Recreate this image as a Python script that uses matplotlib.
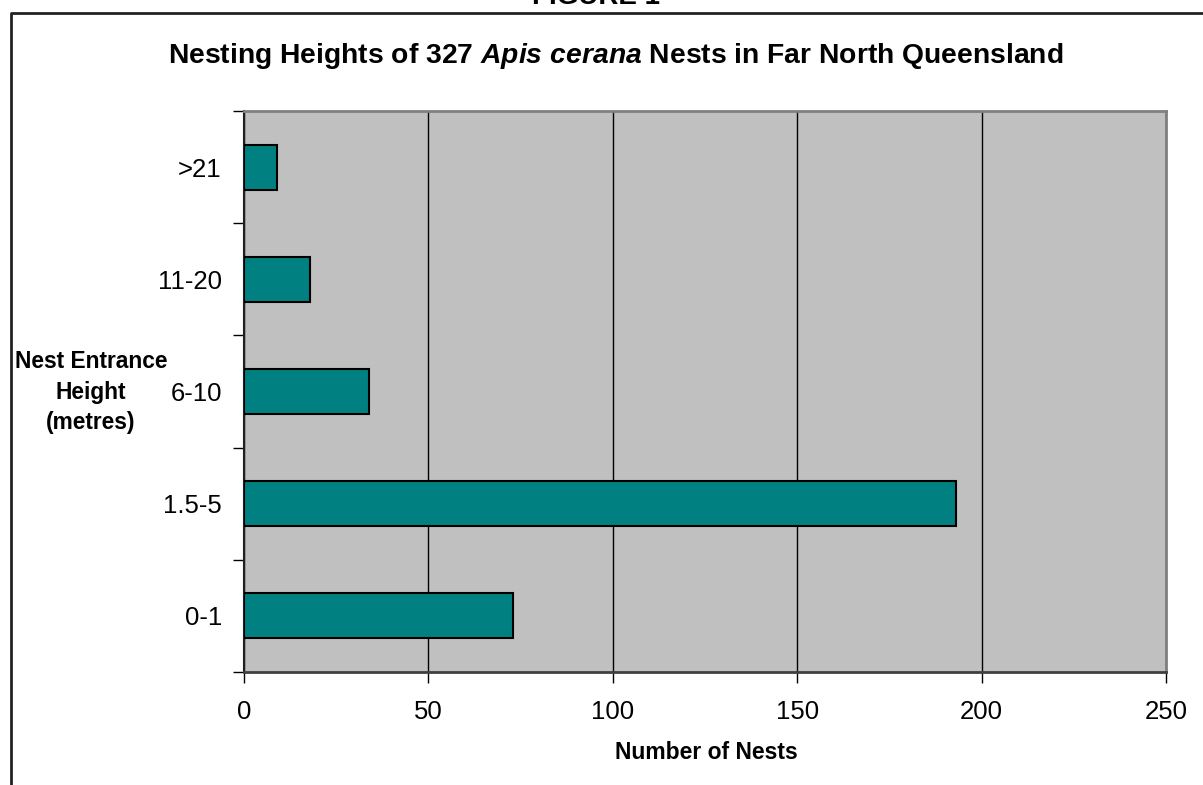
import matplotlib
matplotlib.use("Agg")
import matplotlib.pyplot as plt
from matplotlib.lines import Line2D
import numpy as np

categories = ["0-1", "1.5-5", "6-10", "11-20", ">21"]
nests = [73, 193, 34, 18, 9]
x_ticks = [0, 50, 100, 150, 200, 250]

plt.rcParams['font.family'] = ['Liberation Sans', 'DejaVu Sans']
plt.rcParams['mathtext.fontset'] = 'custom'
plt.rcParams['mathtext.it'] = 'Liberation Sans:italic:bold'
plt.rcParams['mathtext.rm'] = 'Liberation Sans:bold'

W, H = 1203, 785
fig = plt.figure(figsize=(W / 100, H / 100), dpi=100)
fig.patch.set_facecolor('white')

L, R, T, B = 244, 1166, 111, 672
ax = fig.add_axes([L / W, 1 - B / H, (R - L) / W, (B - T) / H])
ax.set_facecolor('#C0C0C0')

pos = np.arange(len(categories))
ax.barh(pos, nests, height=0.4, color='#008080', edgecolor='black',
        linewidth=1.5, zorder=3)

ax.set_xlim(0, 250)
ax.set_ylim(-0.5, len(categories) - 0.5)
ax.set_xticks(x_ticks)
ax.set_xticklabels([str(v) for v in x_ticks], fontsize=18.5)
ax.tick_params(axis='x', direction='out', length=8, width=1, pad=12,
               color='black')
ax.xaxis.grid(True, color='black', linewidth=1, zorder=1)
ax.set_axisbelow(True)

ax.set_yticks(np.arange(-0.5, len(categories), 1.0))
ax.set_yticklabels([])
ax.tick_params(axis='y', which='major', direction='out', length=8, width=1,
               color='black')
ax.set_yticks(pos, minor=True)
ax.set_yticklabels(categories, minor=True, fontsize=18.5)
ax.tick_params(axis='y', which='minor', length=0, pad=16)

for s in ['top', 'right']:
    ax.spines[s].set_color('#808080')
    ax.spines[s].set_linewidth(2)
ax.spines['left'].set_color('#202020')
ax.spines['left'].set_linewidth(1.5)
ax.spines['bottom'].set_color('#404040')
ax.spines['bottom'].set_linewidth(2)

# Axis labels
fig.text(706 / W, 1 - 759 / H, "Number of Nests", ha='center',
         va='baseline', fontsize=16.5, fontweight='bold')
fig.text(91 / W, 1 - 392 / H, "Nest Entrance\nHeight\n(metres)",
         ha='center', va='center', fontsize=16.4, fontweight='bold',
         linespacing=1.4)

# Title
fig.text(616 / W, 1 - 63 / H,
         r"Nesting Heights of 327 $\mathit{Apis\ cerana}$ Nests in Far North Queensland",
         ha='center', va='baseline', fontsize=20.3, fontweight='bold')

# Partially cut "FIGURE 1" (cut off at the top edge, as in the original)
fig.text(596 / W, 1 - 4 / H, "FIGURE 1", ha='center', va='baseline',
         fontsize=20, fontweight='bold')

# Outer frame (cut off on right and bottom)
frame = Line2D([11 / W, 11 / W, 1.01], [-0.01, 1 - 12.5 / H, 1 - 12.5 / H],
               transform=fig.transFigure, color='#222222', linewidth=2)
fig.add_artist(frame)

fig.savefig("out.png", dpi=100, facecolor='white')
